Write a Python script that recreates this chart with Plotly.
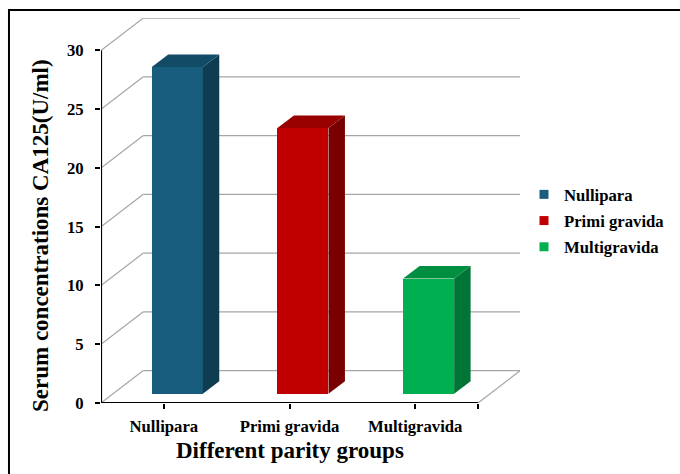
import plotly.graph_objects as go

# ---- data -------------------------------------------------------------
categories = ["Nullipara", "Primi gravida", "Multigravida"]
ca125 = [27.8, 22.6, 9.8]
y_ticks = [0, 5, 10, 15, 20, 25, 30]

front_colors = ["#185D7E", "#C00000", "#00B050"]
top_colors = ["#124B66", "#990000", "#008E40"]
side_colors = ["#0E3D52", "#780000", "#007535"]

# ---- oblique 3-D projection, expressed in axis units ------------------
WALL_DX, WALL_DY = 0.3366, 2.757      # full depth of the box
BAR_X0, BAR_Y0 = 0.107, 0.79          # offset of the bar front faces
BAR_W = 0.406                         # front face width
BAR_DX, BAR_DY = 0.131, 1.064         # depth of each bar
X_MIN, X_MAX = -0.5, 2.834
Y_MAX = 32.76
X_END = len(categories) - 0.5

FONT = "Times New Roman, Liberation Serif, serif"

fig = go.Figure()

# front faces
for i, (name, v) in enumerate(zip(categories, ca125)):
    fig.add_trace(go.Bar(
        x=[i + BAR_X0], y=[v], base=BAR_Y0, width=BAR_W,
        marker=dict(color=front_colors[i], line=dict(width=0)),
        name=name, showlegend=False, hoverinfo="skip",
    ))

# side and top faces
for i, v in enumerate(ca125):
    xl = i + BAR_X0 - BAR_W / 2
    xr = i + BAR_X0 + BAR_W / 2
    b = BAR_Y0
    t = BAR_Y0 + v
    fig.add_trace(go.Scatter(
        x=[xr, xr, xr + BAR_DX, xr + BAR_DX, xr],
        y=[b, t, t + BAR_DY, b + BAR_DY, b],
        mode="lines", fill="toself", fillcolor=side_colors[i],
        line=dict(width=0, color=side_colors[i]),
        showlegend=False, hoverinfo="skip",
    ))
    fig.add_trace(go.Scatter(
        x=[xl, xr, xr + BAR_DX, xl + BAR_DX, xl],
        y=[t, t, t + BAR_DY, t + BAR_DY, t],
        mode="lines", fill="toself", fillcolor=top_colors[i],
        line=dict(width=0, color=top_colors[i]),
        showlegend=False, hoverinfo="skip",
    ))

# legend entries
for i, name in enumerate(categories):
    fig.add_trace(go.Scatter(
        x=[None], y=[None], mode="markers", name=name,
        legendgroup=name,
        marker=dict(symbol="square", size=9, color=front_colors[i]),
    ))

# wall and floor grid
grid = dict(color="#A6A6A6", width=1.2)
for v in y_ticks:
    fig.add_shape(type="line", layer="below", line=grid,
                  x0=X_MIN, y0=v, x1=X_MIN + WALL_DX, y1=v + WALL_DY)
    fig.add_shape(type="line", layer="below", line=grid,
                  x0=X_MIN + WALL_DX, y0=v + WALL_DY, x1=X_MAX, y1=v + WALL_DY)
fig.add_shape(type="line", layer="below", line=grid,
              x0=X_END, y0=0, x1=X_END + WALL_DX, y1=WALL_DY)

# front axis lines
axis_line = dict(color="black", width=2.2)
fig.add_shape(type="line", line=axis_line, x0=X_MIN, y0=0, x1=X_MIN, y1=y_ticks[-1])
fig.add_shape(type="line", line=axis_line, x0=X_MIN, y0=0, x1=X_END, y1=0)

# outer frame
fig.add_shape(type="rect", xref="paper", yref="paper",
              x0=-0.2196, y0=-0.25, x1=1.45, y1=1.0208,
              line=dict(color="black", width=2), fillcolor="rgba(0,0,0,0)")

title_font = dict(family=FONT, size=23, color="black", weight="bold")
tick_font = dict(family=FONT, size=16.7, color="black", weight="bold")

# axis titles
fig.add_annotation(text="Serum concentrations CA125(U/ml)", textangle=-90,
                   xref="paper", yref="paper", x=(40 - 101) / 419, y=(403 - 236) / 385,
                   xanchor="center", yanchor="middle", showarrow=False, font=title_font)
fig.add_annotation(text="Different parity groups",
                   xref="x", yref="paper", x=(X_MIN + X_END) / 2, y=(403 - 450) / 385,
                   xanchor="center", yanchor="middle", showarrow=False, font=title_font)

fig.update_layout(
    width=680, height=474,
    margin=dict(l=101, r=160, t=18, b=71, autoexpand=False),
    paper_bgcolor="white", plot_bgcolor="white",
    font=dict(family=FONT, color="black", size=16, weight="bold"),
    showlegend=True,
    legend=dict(
        x=(524 - 101) / 419, xanchor="left",
        y=(403 - 177) / 385, yanchor="top",
        font=tick_font,
        tracegroupgap=1.5, bgcolor="rgba(0,0,0,0)",
    ),
    xaxis=dict(
        range=[X_MIN, X_MAX], showgrid=False, zeroline=False, showline=False,
        tickmode="array", tickvals=[0, 1, 2, X_END],
        ticktext=categories + [""],
        ticks="outside", ticklen=5, tickwidth=2, tickcolor="black",
        ticklabelstandoff=3,
        tickfont=tick_font,
        fixedrange=True,
    ),
    yaxis=dict(
        range=[0, Y_MAX], showgrid=False, zeroline=False, showline=False,
        tickmode="array", tickvals=y_ticks,
        ticks="outside", ticklen=5, tickwidth=2, tickcolor="black",
        ticklabelstandoff=8,
        tickfont=tick_font,
        fixedrange=True,
    ),
    bargap=0,
)

fig.write_html("out.html")
